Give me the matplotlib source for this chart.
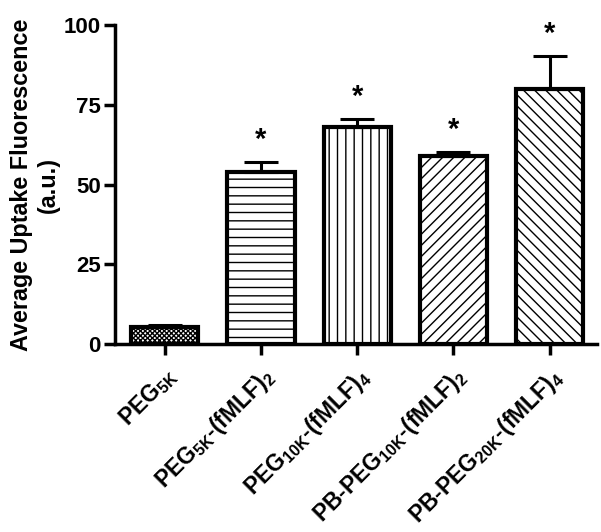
import matplotlib.pyplot as plt
import numpy as np

plt.rcParams['font.family'] = ['Liberation Sans', 'DejaVu Sans']
plt.rcParams['font.weight'] = 'bold'
plt.rcParams['mathtext.fontset'] = 'custom'
plt.rcParams['mathtext.bf'] = 'Liberation Sans:bold'
plt.rcParams['mathtext.rm'] = 'Liberation Sans:bold'
plt.rcParams['mathtext.default'] = 'bf'
plt.rcParams['hatch.linewidth'] = 1.0

# data
labels = [r'PEG$_{5K}$',
          r'PEG$_{5K}$-(fMLF)$_{2}$',
          r'PEG$_{10K}$-(fMLF)$_{4}$',
          r'PB-PEG$_{10K}$-(fMLF)$_{2}$',
          r'PB-PEG$_{20K}$-(fMLF)$_{4}$']
means = [5.3, 54.0, 68.0, 59.0, 80.0]
errs = [0.6, 3.0, 2.7, 1.2, 10.3]
signif = [False, True, True, True, True]
hatches = ['xxxxxxx', '--', '||', '///', '\\\\\\']

fig = plt.figure(figsize=(6.01, 5.32), dpi=100)
ax = fig.add_axes([0.191, 0.353, 0.802, 0.600])

x = np.arange(len(means))
for xi, m, e, h in zip(x, means, errs, hatches):
    ax.bar(xi, m, width=0.7, color='white', edgecolor='black',
           linewidth=3.0, hatch=h, zorder=2)
    ax.errorbar(xi, m, yerr=[[0], [e]], fmt='none', ecolor='black',
                elinewidth=2.2, capsize=12, capthick=2.2, zorder=3)

# significance stars
for xi, m, e, s in zip(x, means, errs, signif):
    if s:
        ax.text(xi, m + e + 2.5, '*', ha='center', va='bottom',
                fontsize=21, fontweight='bold')

ax.set_xlim(-0.52, 4.49)
ax.set_ylim(0, 100)
ax.set_yticks([0, 25, 50, 75, 100])
ax.set_xticks(x)
ax.set_xticklabels(labels, rotation=45, ha='right', rotation_mode='anchor',
                   fontsize=16.5, fontweight='bold')
ax.tick_params(axis='y', labelsize=16, width=2.5, length=8, pad=2)
ax.tick_params(axis='x', width=2.5, length=8, pad=6)
for lbl in ax.get_yticklabels():
    lbl.set_fontweight('bold')

ax.spines['top'].set_visible(False)
ax.spines['right'].set_visible(False)
ax.spines['left'].set_linewidth(2.5)
ax.spines['bottom'].set_linewidth(2.5)

ax.set_ylabel('Average Uptake Fluorescence\n(a.u.)', fontsize=16.8,
              fontweight='bold', labelpad=3, linespacing=1.2)

plt.savefig('out.png', dpi=100)
